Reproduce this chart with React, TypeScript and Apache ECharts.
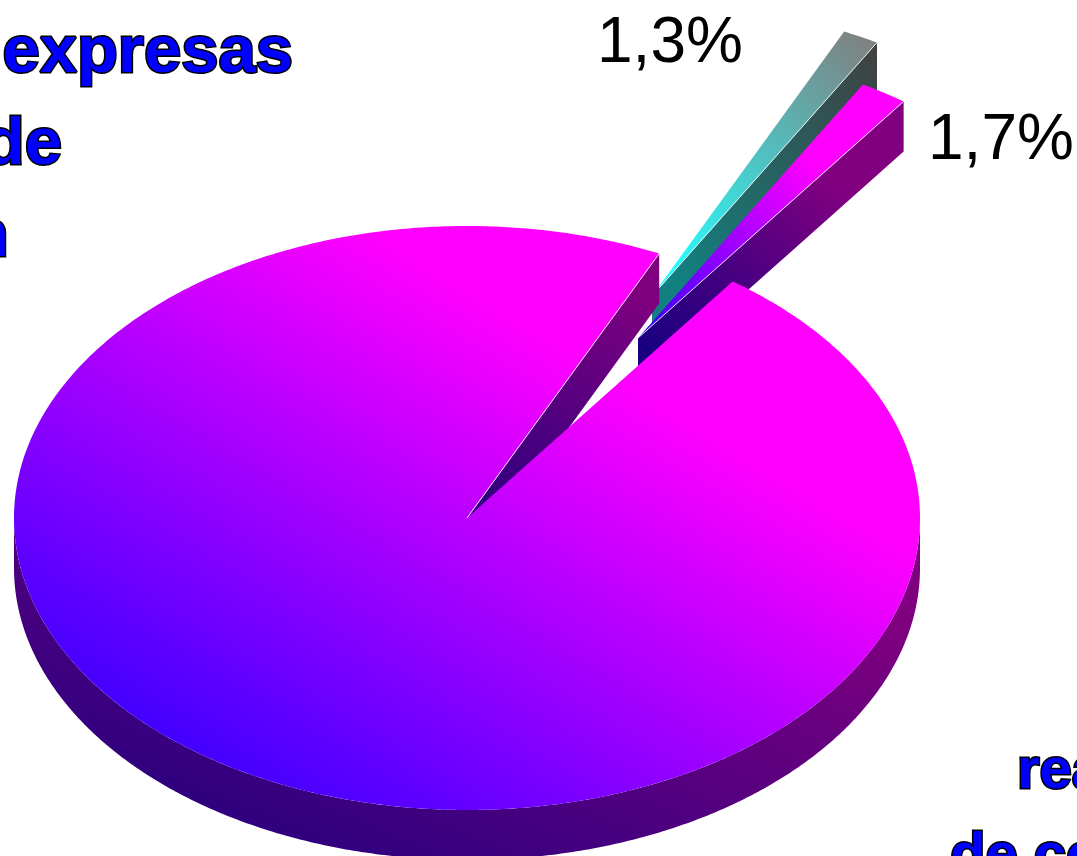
import React, { useEffect, useRef } from "react";
import * as echarts from "echarts";

// Share of each slice, in percent, in clockwise order behind the cut
const sliceNames = ["Resto", "Segmento B", "Segmento A"];
const sliceValues = [97.0, 1.3, 1.7];
const labelledSlices = [false, true, true];

// Clipped words of the surrounding slide
const topLeftWords = ["expresas", "de", "n"];
const bottomRightWords = ["rea", "de co"];

const W = 1077;
const H = 856;
const CX = 467;
const CY = 518;
const RX = 453;
const RY = 292;
const DEPTH = 50;
const START_ANGLE = 54.1;
const EXPLODE: [number, number][] = [[0, 0], [185, -222], [171, -180]];
const DRAW_ORDER = [1, 2, 0];

type RGB = [number, number, number];
type Ramp = { from: [number, number]; to: [number, number]; stops: [number, RGB][] };

const RAMPS: Ramp[] = [
  {
    from: [212, 827],
    to: [516, 319],
    stops: [[0, [48, 0, 255]], [1, [255, 0, 255]]],
  },
  {
    from: [668, 275],
    to: [865, 35],
    stops: [[0, [36, 255, 255]], [1, [128, 128, 128]]],
  },
  {
    from: [640, 338],
    to: [815, 165],
    stops: [[0, [50, 0, 255]], [1, [255, 0, 255]]],
  },
];
const MAIN_WALL: Ramp = {
  from: [200, 800],
  to: [359, 407],
  stops: [[0, [96, 0, 254]], [1, [254, 0, 254]]],
};
const MAIN_CUT: Ramp = {
  from: [480, 525],
  to: [640, 290],
  stops: [[0, [84, 0, 254]], [1, [254, 0, 254]]],
};

function gradient(r: Ramp, k: number) {
  const css = (c: RGB) => `rgb(${Math.round(c[0] * k)},${Math.round(c[1] * k)},${Math.round(c[2] * k)})`;
  return new echarts.graphic.LinearGradient(
    r.from[0], r.from[1], r.to[0], r.to[1],
    r.stops.map(([offset, c]) => ({ offset, color: css(c) })),
    true
  );
}

function sliceAngles() {
  const total = sliceValues.reduce((a, b) => a + b, 0);
  let a = START_ANGLE;
  return sliceValues.map((v) => {
    const start = a;
    a -= (v / total) * 360;
    return [start, a];
  });
}

function percentLabel(v: number) {
  return v.toFixed(1).replace(".", ",") + "%";
}

function renderSlice(params: any) {
  const i = DRAW_ORDER[params.dataIndex];
  const [startA, endA] = sliceAngles()[i];
  const [dx, dy] = EXPLODE[i];
  const ox = CX + dx;
  const oy = CY + dy;
  const at = (deg: number, z = 0): [number, number] => {
    const t = (deg * Math.PI) / 180;
    return [ox + RX * Math.cos(t), oy - RY * Math.sin(t) + z];
  };
  const arc: [number, number][] = [];
  const steps = Math.max(2, Math.ceil((startA - endA) * 2));
  for (let s = 0; s <= steps; s++) arc.push(at(startA - ((startA - endA) * s) / steps));

  const children: any[] = [];
  const isMain = i === 0;
  const p = at(endA);

  // the cut face that looks at the viewer: far end of the big slice, right side of the small ones
  children.push({
    type: "polygon",
    shape: { points: [[ox, oy], p, [p[0], p[1] + DEPTH], [ox, oy + DEPTH]] },
    style: { fill: isMain ? gradient(MAIN_CUT, 0.5) : gradient(RAMPS[i], 0.5) },
  });

  if (isMain) {
    // outer wall, front half only
    const front: [number, number][] = [];
    for (let d = 180; d <= 360; d += 0.5) front.push(at(d));
    const back = front.map(([x, y]) => [x, y + DEPTH]).reverse();
    children.push({
      type: "polygon",
      shape: { points: [...front, ...back] },
      style: { fill: gradient(MAIN_WALL, 0.5) },
    });
  }

  children.push({
    type: "polygon",
    shape: { points: [[ox, oy], ...arc] },
    style: { fill: gradient(RAMPS[i], 1) },
  });

  children.push({
    type: "line",
    shape: { x1: ox, y1: oy, x2: p[0], y2: p[1] },
    style: { stroke: "#ffffff", lineWidth: 1, opacity: 0.85 },
  });

  return { type: "group", children };
}

function outlined(text: string, x: number, y: number, align: string, size: number) {
  return {
    type: "text",
    silent: true,
    style: {
      text,
      x,
      y,
      align,
      verticalAlign: "bottom",
      font: `bold ${size}px "Liberation Sans", Arial, sans-serif`,
      fill: "#0000ff",
      stroke: "#000000",
      lineWidth: 3,
    },
  };
}

function percentText(text: string, x: number, y: number) {
  return {
    type: "text",
    silent: true,
    style: {
      text,
      x,
      y,
      align: "left",
      verticalAlign: "bottom",
      font: '64px "Liberation Sans", Arial, sans-serif',
      fill: "#000000",
    },
  };
}

export default function App() {
  const ref = useRef<HTMLDivElement>(null);
  useEffect(() => {
    document.body.style.margin = "0";
    const chart = echarts.init(ref.current!, undefined, { renderer: "svg" });
    const labelAnchors: Record<number, [number, number]> = { 1: [597, 72], 2: [928, 169] };
    chart.setOption({
      animation: false,
      backgroundColor: "#ffffff",
      series: [
        {
          type: "custom",
          coordinateSystem: "none",
          silent: true,
          clip: false,
          data: DRAW_ORDER.map((i) => ({ name: sliceNames[i], value: sliceValues[i] })),
          renderItem: renderSlice,
        },
      ],
      graphic: [
        outlined(topLeftWords[0], 293, 82, "right", 67),
        outlined(topLeftWords[1], 62, 174, "right", 67),
        outlined(topLeftWords[2], 9, 266, "right", 67),
        outlined(bottomRightWords[0], 1017, 796, "left", 58),
        outlined(bottomRightWords[1], 950, 881, "left", 58),
        ...sliceValues
          .map((v, i) => (labelledSlices[i] ? percentText(percentLabel(v), labelAnchors[i][0], labelAnchors[i][1]) : null))
          .filter(Boolean),
      ],
    });
    return () => chart.dispose();
  }, []);
  return <div ref={ref} style={{ position: "absolute", left: 0, top: 0, width: W, height: H, overflow: "hidden" }} />;
}
